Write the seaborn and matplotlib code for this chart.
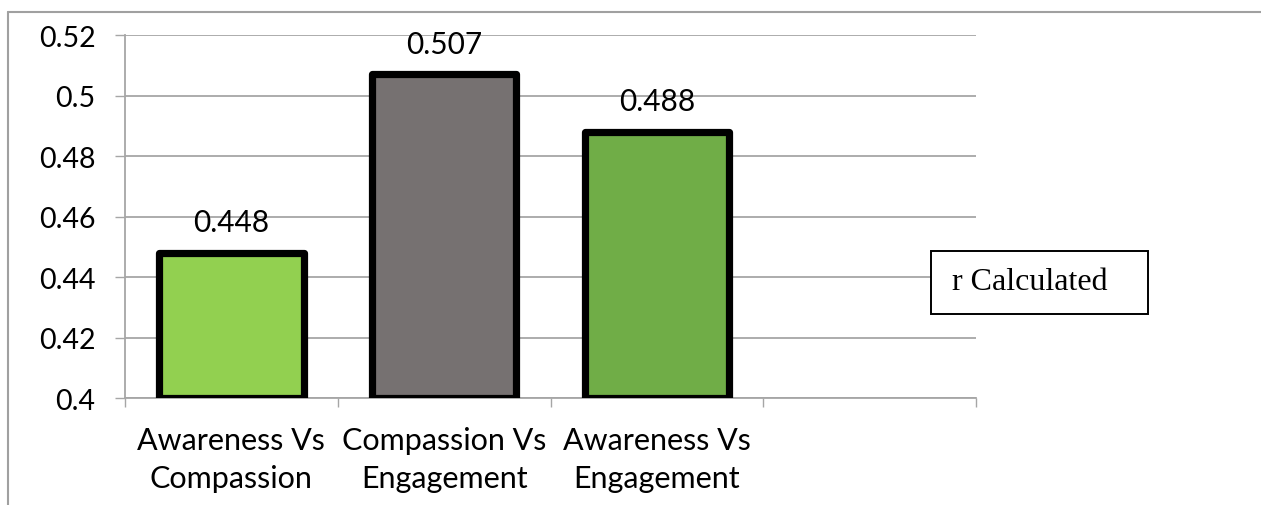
import matplotlib
matplotlib.use("Agg")
import matplotlib.pyplot as plt
from matplotlib.lines import Line2D
from matplotlib.patches import Rectangle
import seaborn as sns
import pandas as pd

# Correlation coefficients (r calculated) between the three scales
categories = ["Awareness Vs\nCompassion", "Compassion Vs\nEngagement", "Awareness Vs\nEngagement"]
r_values = [0.448, 0.507, 0.488]
bar_colors = ["#92D050", "#767171", "#70AD47"]
y_ticks = [0.40, 0.42, 0.44, 0.46, 0.48, 0.50, 0.52]
y_tick_labels = ["0.4", "0.42", "0.44", "0.46", "0.48", "0.5", "0.52"]
legend_label = "r Calculated"
baseline = 0.40

sns.set_theme(style="white")
plt.rcParams["font.family"] = ["Lato", "DejaVu Sans"]

W, H = 1261, 506
fig = plt.figure(figsize=(W / 100, H / 100), dpi=100)
ax = fig.add_axes([125 / W, 1 - 399 / H, (976 - 125) / W, (399 - 36) / H])

df = pd.DataFrame({"pair": categories, "r": r_values})
sns.barplot(data=df, x="pair", y="r", hue="pair", palette=bar_colors,
            saturation=1, legend=False, width=0.68, edgecolor="black",
            linewidth=5.2, ax=ax, zorder=3)

# Bars rise from the axis floor so their outline closes at the bottom
for p in ax.patches:
    h = p.get_height()
    p.set_y(baseline)
    p.set_height(h - baseline)
    p.set_joinstyle("round")

grid_c = "#A6A6A6"
ax.set_xlim(-0.5, 3.5)
ax.set_ylim(baseline, 0.52)
ax.set_yticks(y_ticks)
ax.set_yticklabels(y_tick_labels)
ax.yaxis.grid(True, color=grid_c, linewidth=1.3, zorder=0)
ax.set_axisbelow(True)
ax.set_xlabel("")
ax.set_ylabel("")

for side in ["top", "right"]:
    ax.spines[side].set_visible(False)
for side in ["left", "bottom"]:
    ax.spines[side].set_color(grid_c)
    ax.spines[side].set_linewidth(1.3)

ax.tick_params(axis="y", which="major", length=7.2, width=1.0, color=grid_c,
               pad=14, labelsize=20.5, labelcolor="black", left=True)
ax.set_xticks(range(len(categories)))
ax.set_xticklabels(categories, linespacing=1.45)
ax.set_xticks([-0.5, 0.5, 1.5, 2.5, 3.5], minor=True)
ax.tick_params(axis="x", which="major", length=0, pad=20, labelsize=22,
               labelcolor="black")
ax.tick_params(axis="x", which="minor", length=6.5, width=1.0, color=grid_c,
               bottom=True)

for i, v in enumerate(r_values):
    ax.annotate(f"{v:.3f}", (i, v), xytext=(0, 12), textcoords="offset points",
                ha="center", va="bottom", fontsize=21.5, color="black")

# Legend box
box = Rectangle((931 / W, 1 - 315 / H), 217 / W, 63 / H, transform=fig.transFigure,
                facecolor="white", edgecolor="black", linewidth=1.4, zorder=10)
fig.add_artist(box)
fig.text(952 / W, 1 - 283 / H, legend_label, ha="left", va="center",
         fontsize=23, family=["Liberation Serif"], color="black", zorder=11)

# Outer chart frame
frame_c = "#A0A0A0"
fig.add_artist(Line2D([8 / W, 8 / W], [0, 1 - 13 / H], transform=fig.transFigure,
                      color=frame_c, linewidth=1.5))
fig.add_artist(Line2D([8 / W, 1], [1 - 13 / H, 1 - 13 / H], transform=fig.transFigure,
                      color=frame_c, linewidth=1.5))

fig.savefig("out.png", dpi=100, facecolor="white")
